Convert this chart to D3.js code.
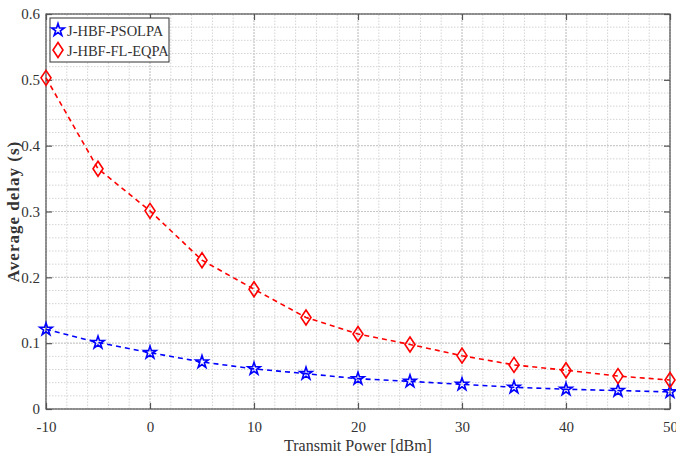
<!DOCTYPE html>
<html>
<head>
<meta charset="utf-8">
<script src="https://cdn.jsdelivr.net/npm/d3@7"></script>
<style>
  html, body { margin: 0; padding: 0; background: #fff; }
  svg { display: block; }
  text { font-family: "Liberation Serif", "DejaVu Serif", serif; fill: #333; }
</style>
</head>
<body>
<svg id="chart" width="676" height="455"></svg>
<script>
// Transmit power settings (dBm)
const power = [-10, -5, 0, 5, 10, 15, 20, 25, 30, 35, 40, 45, 50];
// Average delay (s) for each scheme
const psolpa = [0.121, 0.101, 0.0856, 0.0714, 0.061, 0.0537, 0.046, 0.042, 0.0375, 0.033, 0.030, 0.028, 0.026];
const fleqpa = [0.503, 0.365, 0.301, 0.226, 0.182, 0.139, 0.114, 0.098, 0.081, 0.067, 0.0588, 0.050, 0.044];
const seriesNames = ["J-HBF-PSOLPA", "J-HBF-FL-EQPA"];
const xTicks = [-10, 0, 10, 20, 30, 40, 50];
const yTicks = [0, 0.1, 0.2, 0.3, 0.4, 0.5, 0.6];

const svg = d3.select("#chart");
const m = { left: 46, right: 6, top: 14, bottom: 46 };
const W = 676, H = 455;
const x = d3.scaleLinear().domain([-10, 50]).range([m.left, W - m.right]);
const y = d3.scaleLinear().domain([0, 0.6]).range([H - m.bottom, m.top]);

const x0 = x.range()[0], x1 = x.range()[1];
const y0 = y.range()[0], y1 = y.range()[1];

// Grid: minor lines every 2 dBm / 0.02 s, majors on the ticks
const g = svg.append("g");
d3.range(-10, 50.001, 2).forEach(v => {
  g.append("line").attr("x1", x(v)).attr("x2", x(v)).attr("y1", y0).attr("y2", y1)
    .attr("stroke", "#d4d4d4").attr("stroke-width", 1).attr("stroke-dasharray", "1.5,1.5");
});
d3.range(0, 0.6001, 0.02).forEach(v => {
  g.append("line").attr("x1", x0).attr("x2", x1).attr("y1", y(v)).attr("y2", y(v))
    .attr("stroke", "#d4d4d4").attr("stroke-width", 1).attr("stroke-dasharray", "1.5,1.5");
});
xTicks.forEach(v => {
  g.append("line").attr("x1", x(v)).attr("x2", x(v)).attr("y1", y0).attr("y2", y1)
    .attr("stroke", "#c8c8c8").attr("stroke-width", 1).attr("stroke-dasharray", "2,1");
});
yTicks.forEach(v => {
  g.append("line").attr("x1", x0).attr("x2", x1).attr("y1", y(v)).attr("y2", y(v))
    .attr("stroke", "#c8c8c8").attr("stroke-width", 1).attr("stroke-dasharray", "2,1");
});

// Axes with inward ticks on all four sides
const axisColor = "#555";
const styleAxis = sel => {
  sel.select(".domain").remove();
  sel.selectAll(".tick line").attr("stroke", axisColor).attr("stroke-width", 1.2);
  sel.selectAll(".tick text").attr("font-size", 15).attr("fill", "#333")
    .attr("font-family", "Liberation Serif, DejaVu Serif, serif");
};
svg.append("g").attr("transform", `translate(0,${y0})`)
  .call(d3.axisBottom(x).tickValues(xTicks).tickFormat(d => String(d)).tickSizeInner(-6).tickPadding(12))
  .call(styleAxis);
svg.append("g").attr("transform", `translate(0,${y1})`)
  .call(d3.axisTop(x).tickValues(xTicks).tickFormat("").tickSizeInner(-6))
  .call(styleAxis);
svg.append("g").attr("transform", `translate(${x0},0)`)
  .call(d3.axisLeft(y).tickValues(yTicks).tickFormat(d => d === 0 ? "0" : d3.format(".1f")(d)).tickSizeInner(-6).tickPadding(6))
  .call(styleAxis);
svg.append("g").attr("transform", `translate(${x1},0)`)
  .call(d3.axisRight(y).tickValues(yTicks).tickFormat("").tickSizeInner(-6))
  .call(styleAxis);

// Plot box
svg.append("rect").attr("x", x0).attr("y", y1).attr("width", x1 - x0).attr("height", y0 - y1)
  .attr("fill", "none").attr("stroke", axisColor).attr("stroke-width", 1.2);

// Series
const series = [
  { name: seriesNames[0], vals: psolpa, color: "#0000ff", shape: d3.symbolStar, size: 48 },
  { name: seriesNames[1], vals: fleqpa, color: "#ff0000", shape: "diamond", size: 0 }
];
const line = d3.line().x(d => x(d[0])).y(d => y(d[1]));
const diamond = (w, h) => `M0,${-h}L${w},0L0,${h}L${-w},0Z`;

function marker(sel, s) {
  if (s.shape === "diamond") {
    sel.append("path").attr("d", diamond(5, 7.5));
  } else {
    sel.append("path").attr("d", d3.symbol().type(s.shape).size(s.size)());
  }
  sel.selectAll("path").attr("fill", "none").attr("stroke", s.color).attr("stroke-width", 1.6);
}

series.forEach(s => {
  const pts = power.map((p, i) => [p, s.vals[i]]);
  svg.append("path").datum(pts).attr("d", line).attr("fill", "none")
    .attr("stroke", s.color).attr("stroke-width", 1.6).attr("stroke-dasharray", "5,4");
  svg.append("g").selectAll("g").data(pts).join("g")
    .attr("transform", d => `translate(${x(d[0])},${y(d[1])})`)
    .each(function () { marker(d3.select(this), s); });
});

// Legend
const lg = svg.append("g").attr("transform", "translate(50,18)");
lg.append("rect").attr("width", 119).attr("height", 44)
  .attr("fill", "#fff").attr("stroke", "#333").attr("stroke-width", 1);
series.forEach((s, i) => {
  const row = lg.append("g").attr("transform", `translate(8,${12 + i * 20})`);
  marker(row, s);
  row.append("text").attr("x", 9).attr("y", 5.5).attr("font-size", 14.5).text(s.name);
});

// Axis titles
svg.append("text").attr("x", (x0 + x1) / 2).attr("y", 451).attr("text-anchor", "middle")
  .attr("font-size", 16).text("Transmit Power [dBm]");
svg.append("text").attr("transform", `translate(19,${(y0 + y1) / 2}) rotate(-90)`)
  .attr("text-anchor", "middle").attr("font-size", 17).attr("font-weight", "bold")
  .attr("letter-spacing", 1).text("Average delay (s)");
</script>
</body>
</html>
